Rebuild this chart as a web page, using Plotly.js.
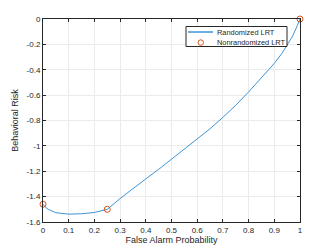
<!DOCTYPE html>
<html>
<head>
<meta charset="utf-8">
<script src="https://cdn.plot.ly/plotly-3.0.1.min.js"></script>
<style>html,body{margin:0;padding:0;background:#fff;}#chart{width:332px;height:249px;}</style>
</head>
<body>
<div id="chart"></div>
<script>
// Randomized LRT curve
const pfa = [0, 0.01, 0.02, 0.05, 0.1, 0.15, 0.2, 0.25, 0.3, 0.35, 0.4, 0.45, 0.5, 0.55, 0.6, 0.65, 0.7, 0.75, 0.8, 0.85, 0.9, 0.93, 0.95, 0.97, 0.99, 1];
const risk = [-1.46, -1.485, -1.50, -1.527, -1.538, -1.535, -1.525, -1.50, -1.415, -1.335, -1.26, -1.185, -1.105, -1.03, -0.95, -0.865, -0.775, -0.68, -0.575, -0.465, -0.35, -0.27, -0.21, -0.14, -0.05, 0];
// Nonrandomized LRT points
const nrPfa = [0, 0.25, 1];
const nrRisk = [-1.46, -1.50, 0];
const xTicks = [0, 0.1, 0.2, 0.3, 0.4, 0.5, 0.6, 0.7, 0.8, 0.9, 1];
const yTicks = [0, -0.2, -0.4, -0.6, -0.8, -1, -1.2, -1.4, -1.6];
const legendLabels = ['Randomized LRT', 'Nonrandomized LRT'];

const font = "Liberation Sans, Arial, sans-serif";
const lineColor = '#3d95d6';
const markColor = '#D95319';
const traces = [
  {x: pfa, y: risk, mode: 'lines', name: legendLabels[0], line: {color: lineColor, width: 1}},
  {x: nrPfa, y: nrRisk, mode: 'markers', name: legendLabels[1], cliponaxis: false,
   marker: {symbol: 'circle-open', size: 6, color: markColor, line: {width: 1, color: markColor}}}
];
const axisCommon = {
  showline: true, linecolor: '#262626', linewidth: 1, mirror: 'ticks',
  ticks: 'inside', ticklen: 3, tickcolor: '#262626', tickwidth: 1,
  showgrid: true, gridcolor: '#ebebeb', gridwidth: 1, zeroline: false,
  tickfont: {family: font, size: 8, color: '#262626'}
};
// pixel -> paper helpers for the manual legend box
const L = 43, R = 300, T = 19, B = 222;
const px = v => (v - L) / (R - L);
const py = v => 1 - (v - T) / (B - T);
const layout = {
  width: 332, height: 249,
  margin: {l: 43, r: 32, t: 19, b: 27},
  paper_bgcolor: '#fff', plot_bgcolor: '#fff',
  showlegend: false,
  xaxis: Object.assign({}, axisCommon, {
    range: [0, 1], tickvals: xTicks, ticktext: xTicks.map(String),
    title: {text: 'False Alarm Probability', font: {family: font, size: 9, color: '#262626'}, standoff: 2}
  }),
  yaxis: Object.assign({}, axisCommon, {
    range: [-1.6, 0], tickvals: yTicks, ticktext: yTicks.map(String),
    title: {text: 'Behavioral Risk', font: {family: font, size: 9, color: '#262626'}, standoff: 6}
  }),
  shapes: [
    {type: 'rect', xref: 'paper', yref: 'paper', x0: px(186), x1: px(287), y0: py(46.5), y1: py(26.5),
     fillcolor: '#fff', line: {color: '#262626', width: 1}, layer: 'above'},
    {type: 'line', xref: 'paper', yref: 'paper', x0: px(188), x1: px(213), y0: py(32), y1: py(32),
     line: {color: lineColor, width: 1.5}, layer: 'above'},
    {type: 'circle', xref: 'paper', yref: 'paper', x0: px(198), x1: px(203.5), y0: py(45.3), y1: py(39.8),
     line: {color: markColor, width: 1}, layer: 'above'}
  ],
  annotations: [
    {xref: 'paper', yref: 'paper', x: px(215), y: py(32), xanchor: 'left', yanchor: 'middle',
     text: legendLabels[0], showarrow: false, font: {family: font, size: 7.4, color: '#262626'}},
    {xref: 'paper', yref: 'paper', x: px(215), y: py(42.5), xanchor: 'left', yanchor: 'middle',
     text: legendLabels[1], showarrow: false, font: {family: font, size: 7.4, color: '#262626'}}
  ]
};
Plotly.newPlot('chart', traces, layout, {staticPlot: true, displayModeBar: false});
</script>
</body>
</html>
